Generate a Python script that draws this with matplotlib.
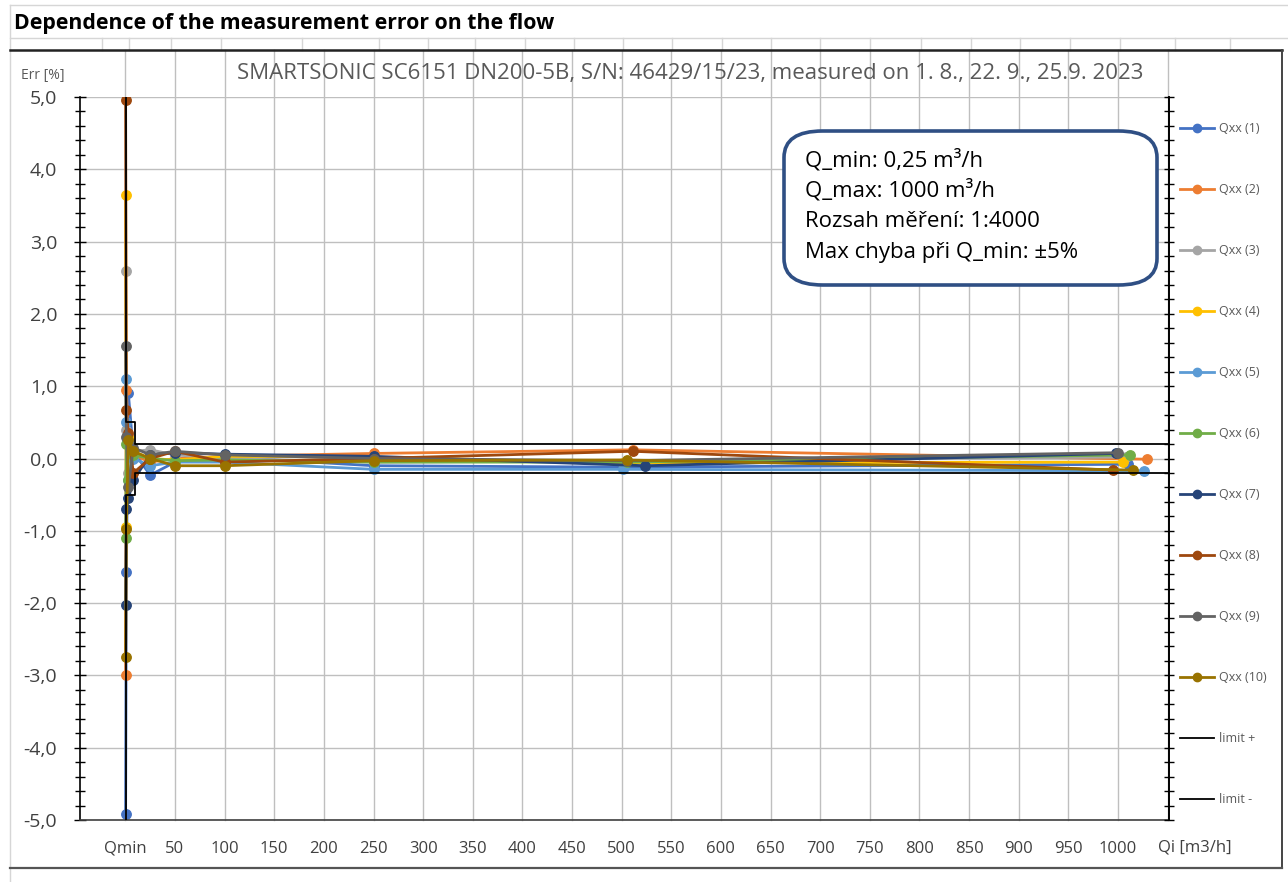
import matplotlib
matplotlib.use('Agg')
import matplotlib.pyplot as plt
from matplotlib.patches import FancyBboxPatch
from matplotlib.lines import Line2D

plt.rcParams['font.family'] = ['Open Sans', 'DejaVu Sans']

W, H = 1288, 882

# series names and colours (Excel palette)
names = ['Qxx (1)', 'Qxx (2)', 'Qxx (3)', 'Qxx (4)', 'Qxx (5)',
         'Qxx (6)', 'Qxx (7)', 'Qxx (8)', 'Qxx (9)', 'Qxx (10)']
colors = ['#4472C4', '#ED7D31', '#A5A5A5', '#FFC000', '#5B9BD5',
          '#70AD47', '#264478', '#9E480E', '#636363', '#997300']

# flow Qi [m3/h] and error [%] for each measurement
flow_1 = [0.25, 1, 3, 8, 25, 50, 100, 250, 502, 1010]
err_1 = [-4.92, -1.57, 0.9, 0.1, -0.23, -0.05, 0.02, -0.1, -0.12, -0.08]
flow_2 = [0.25, 1, 3, 8, 25, 50, 100, 250, 511, 1029]
err_2 = [-3.0, 0.95, 0.3, 0.05, -0.05, 0.0, 0.03, 0.07, 0.12, -0.01]
flow_3 = [0.25, 1, 3, 8, 25, 50, 100, 250, 505, 1008]
err_3 = [2.6, 0.4, -0.2, 0.1, 0.12, 0.05, 0.0, -0.05, -0.03, 0.02]
flow_4 = [0.25, 1, 3, 8, 25, 50, 100, 250, 501, 1005]
err_4 = [3.65, -0.95, 0.3, 0.1, 0.0, -0.02, 0.03, 0.02, -0.06, -0.05]
flow_5 = [0.25, 1, 3, 8, 25, 50, 100, 250, 501, 1026]
err_5 = [1.1, 0.5, -0.3, 0.0, -0.1, -0.05, -0.05, -0.15, -0.15, -0.17]
flow_6 = [0.25, 1, 3, 8, 25, 50, 100, 250, 505, 1012]
err_6 = [-1.1, 0.2, -0.3, 0.05, 0.0, -0.03, -0.02, -0.05, -0.05, 0.05]
flow_7 = [0.25, 1, 3, 8, 25, 50, 100, 250, 524, 998]
err_7 = [-2.02, -0.7, -0.55, -0.3, 0.05, 0.08, 0.06, 0.03, -0.1, 0.07]
flow_8 = [0.25, 1, 3, 8, 25, 50, 100, 250, 511, 995]
err_8 = [4.96, 0.67, 0.35, -0.2, 0.0, 0.1, -0.05, 0.0, 0.1, -0.16]
flow_9 = [0.25, 1, 3, 8, 25, 50, 100, 250, 505, 1000]
err_9 = [1.55, 0.3, -0.4, 0.15, 0.05, 0.1, 0.05, 0.0, -0.03, 0.08]
flow_10 = [0.25, 1, 3, 8, 25, 50, 100, 250, 505, 1015]
err_10 = [-2.75, -0.97, 0.25, 0.1, 0.0, -0.1, -0.1, -0.03, -0.02, -0.16]

flows = [flow_1, flow_2, flow_3, flow_4, flow_5, flow_6, flow_7, flow_8, flow_9, flow_10]
errs = [err_1, err_2, err_3, err_4, err_5, err_6, err_7, err_8, err_9, err_10]

# error limits
limit_x = [0.25, 0.25, 10, 10, 1050]
limit_plus = [5, 0.5, 0.5, 0.2, 0.2]
limit_minus = [-5, -0.5, -0.5, -0.2, -0.2]

x_ticks = [0.25] + list(range(50, 1001, 50))
x_labels = ['Qmin'] + [str(v) for v in range(50, 1001, 50)]
x_grid = list(range(0, 1051, 50))
y_ticks = list(range(-5, 6))
y_labels = [('%.1f' % v).replace('.', ',') for v in y_ticks]

info_lines = ['Q_min: 0,25 m³/h', 'Q_max: 1000 m³/h',
              'Rozsah měření: 1:4000', 'Max chyba při Q_min: ±5%']


def fx(px):
    return px / W


def fy(py):
    return 1 - py / H


fig = plt.figure(figsize=(W / 100, H / 100), dpi=100)

# sheet cells behind the chart
cell = '#d6d6d6'
fig.add_artist(Line2D([fx(10), 1], [fy(5), fy(5)], color=cell, lw=1))
fig.add_artist(Line2D([fx(10), 1], [fy(38), fy(38)], color=cell, lw=1))
fig.add_artist(Line2D([fx(10), fx(10)], [fy(5), 0], color=cell, lw=1))
for cx in [102, 129, 171, 221, 302, 379, 428, 475, 525, 574, 623, 672, 722,
           771, 820, 870, 921, 971, 1020, 1070, 1120, 1175, 1230]:
    fig.add_artist(Line2D([fx(cx), fx(cx)], [fy(38), fy(50)], color=cell, lw=1))

# chart frame
fig.add_artist(Line2D([fx(10), fx(1282)], [fy(50), fy(50)], color='#222222', lw=1.8))
fig.add_artist(Line2D([fx(1282), fx(1282)], [fy(50), fy(868)], color='#444444', lw=1.4))
fig.add_artist(Line2D([fx(10), fx(1282)], [fy(868), fy(868)], color='#555555', lw=1.6))

fig.text(fx(14), fy(24), 'Dependence of the measurement error on the flow',
         fontsize=15.3, fontweight='bold', color='black', va='center', ha='left')

ax = fig.add_axes([fx(80), fy(820), fx(1169) - fx(80), fy(97) - fy(820)])
ax.set_xlim(-45.7, 1051.4)
ax.set_ylim(-5, 5)

for xg in x_grid:
    ax.axvline(xg, 0, 1.065, color='#bfbfbf', lw=1, clip_on=False, zorder=0)
for yg in y_ticks:
    ax.axhline(yg, color='#bfbfbf', lw=1, zorder=0)

for i in range(10):
    ax.plot(flows[i], errs[i], color=colors[i], lw=2.0, marker='o', ms=6.8,
            label=names[i], zorder=2)
ax.plot(limit_x, limit_plus, color='black', lw=1.3, label='limit +', zorder=3)
ax.plot(limit_x, limit_minus, color='black', lw=1.3, label='limit -', zorder=3)

ax.spines['top'].set_visible(False)
ax.spines['left'].set_color('black')
ax.spines['bottom'].set_color('#404040')
ax.spines['right'].set_color('black')
for s in ['left', 'bottom', 'right']:
    ax.spines[s].set_linewidth(1.2)

ax.set_xticks(x_ticks, x_labels)
ax.tick_params(axis='x', length=0, pad=15, labelsize=12, labelcolor='#404040')
ax.set_yticks(y_ticks, y_labels)
ax.set_yticks([v / 5 for v in range(-25, 26)], minor=True)
ax.tick_params(axis='y', which='major', direction='inout', length=9, width=1,
               pad=12, labelsize=14, labelcolor='#404040')
ax.tick_params(axis='y', which='minor', direction='inout', length=7, width=1)

ax2 = ax.twinx()
ax2.set_ylim(-5, 5)
ax2.set_yticks([v / 5 for v in range(-25, 26)])
ax2.tick_params(axis='y', direction='inout', length=7, width=1, labelright=False)
for s in ['top', 'left', 'bottom']:
    ax2.spines[s].set_visible(False)
ax2.spines['right'].set_color('black')
ax2.spines['right'].set_linewidth(1.2)

fig.text(fx(1195), fy(848), 'Qi [m3/h]', fontsize=12, color='#404040',
         ha='center', va='center')
fig.text(fx(43), fy(75), 'Err [%]', fontsize=10, color='#595959',
         ha='center', va='center')
fig.text(fx(690), fy(73), 'SMARTSONIC SC6151 DN200-5B, S/N: 46429/15/23, '
         'measured on 1. 8., 22. 9., 25.9. 2023',
         fontsize=16, color='#595959', ha='center', va='center')

# info box
box = FancyBboxPatch((fx(784), fy(285)), fx(1157) - fx(784), fy(131) - fy(285),
                     boxstyle='round,pad=0,rounding_size=0.03',
                     transform=fig.transFigure, facecolor='white',
                     edgecolor='#2F4F84', lw=2.6, zorder=5)
fig.add_artist(box)
for k, line in enumerate(info_lines):
    fig.text(fx(805), fy(160 + 30.7 * k), line, fontsize=16, color='black',
             ha='left', va='center', zorder=6)

handles, labels = ax.get_legend_handles_labels()
leg = ax.legend(handles, labels, loc='upper left', bbox_to_anchor=(fx(1180), fy(122)),
                bbox_transform=fig.transFigure, frameon=False, fontsize=9,
                labelspacing=3.84, handlelength=2.7, handletextpad=0.4,
                labelcolor='#595959', borderaxespad=0, borderpad=0)
for h in leg.legend_handles:
    h.set_markersize(6)

fig.savefig('out.png', dpi=100)
